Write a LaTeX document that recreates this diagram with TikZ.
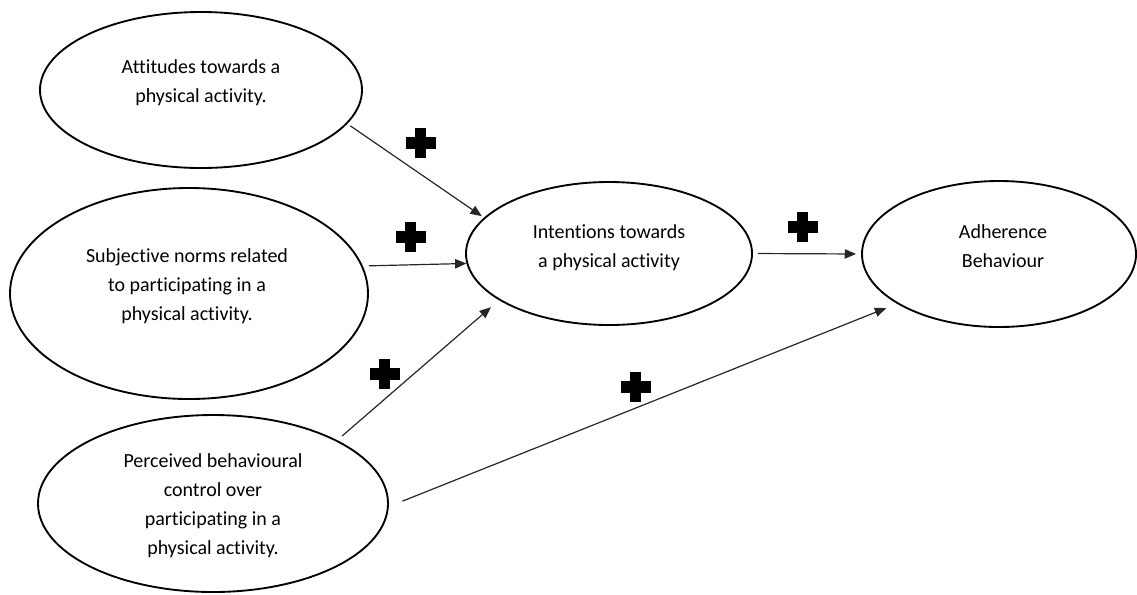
\documentclass[tikz,border=0pt]{standalone}
\usepackage{fontspec}
\setmainfont[Ligatures=NoCommon]{Carlito}
\usetikzlibrary{shapes.geometric,arrows.meta}
\newcommand{\heavyplus}{\rlap{\raisebox{7pt}{\rule{22.5pt}{8.5pt}}}\hspace{7pt}\rule{8.5pt}{22.5pt}\hspace{7pt}}
\tikzset{
  oval/.style={ellipse, draw=black, line width=1.4pt, inner sep=0pt},
  lbl/.style={align=center, text=black, font=\fontsize{15}{21.75}\selectfont, inner sep=0pt},
  conn/.style={draw=black!85, line width=0.9pt, -{Triangle[length=8.5pt,width=7pt]}},
  sign/.style={inner sep=0pt, text=black}
}
\begin{document}
\begin{tikzpicture}[x=0.75pt,y=-0.75pt]
\useasboundingbox (0,0) rectangle (1137,594);
% ellipses
\node[oval, minimum width=241.5pt, minimum height=117pt] (att) at (201,90) {};
\node[oval, minimum width=268.5pt, minimum height=158.25pt] (sub) at (189,293.5) {};
\node[oval, minimum width=262.5pt, minimum height=132.75pt] (per) at (213,503.5) {};
\node[oval, minimum width=214.5pt, minimum height=107.25pt] (int) at (609,253.5) {};
\node[oval, minimum width=205.5pt, minimum height=109.5pt] (adh) at (999,254) {};
% texts
\node[lbl] (attT) at (201,82.5) {Attitudes towards a\\physical activity.};
\node[lbl] (subT) at (187,286.5) {Subjective norms related\\to participating in a\\physical activity.};
\node[lbl] (perT) at (213,505.5) {Perceived behavioural\\control over\\participating in a\\physical activity.};
\node[lbl] (intT) at (609,247.5) {Intentions towards\\a physical activity};
\node[lbl] (adhT) at (1003,246.5) {Adherence\\Behaviour};
% connectors
\draw[conn, shorten <=2.8pt, shorten >=2pt] (att.-13.6) -- (int.164.3);
\draw[conn, shorten <=4.5pt] (sub.9.7) -- (int.184.2);
\draw[conn, shorten <=4.8pt, shorten >=8pt] (per.27.4) -- (int.203.7);
\draw[conn, shorten <=3.75pt, shorten >=3.75pt] (int.east) -- (adh.west);
\draw[conn, shorten <=11pt, shorten >=8.7pt] (per.-1.8) -- (adh.206.6);
% plus signs
\node[sign] (p1) at (416,143) {\heavyplus};
\node[sign] (p2) at (406,237) {\heavyplus};
\node[sign] (p3) at (380,374) {\heavyplus};
\node[sign] (p4) at (798,227) {\heavyplus};
\node[sign] (p5) at (631,387) {\heavyplus};
\end{tikzpicture}
\end{document}
